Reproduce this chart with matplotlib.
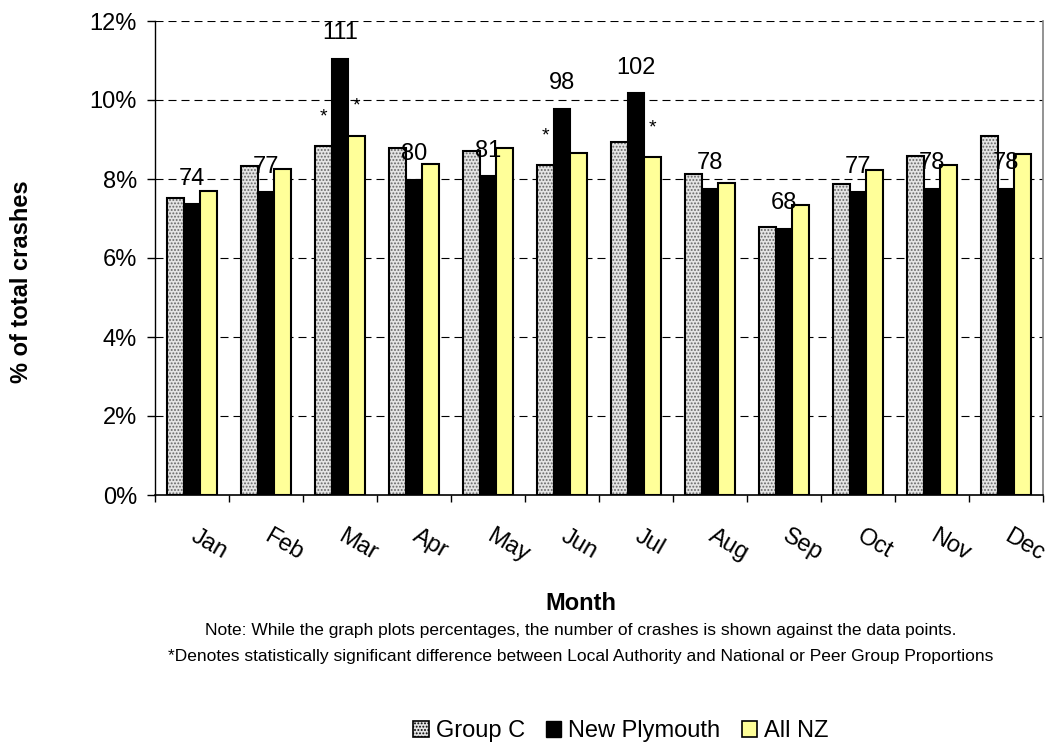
import matplotlib
matplotlib.use("Agg")
import matplotlib.pyplot as plt
from matplotlib.patches import Patch
from matplotlib.ticker import FuncFormatter, FixedLocator

plt.rcParams['font.family'] = ['Liberation Sans', 'DejaVu Sans']
plt.rcParams['hatch.linewidth'] = 0.9

months = ["Jan", "Feb", "Mar", "Apr", "May", "Jun", "Jul", "Aug", "Sep", "Oct", "Nov", "Dec"]
group_c = [7.53, 8.34, 8.84, 8.78, 8.70, 8.36, 8.94, 8.13, 6.78, 7.87, 8.59, 9.09]
new_plymouth = [7.36, 7.66, 11.05, 7.97, 8.07, 9.77, 10.17, 7.75, 6.74, 7.66, 7.75, 7.75]
all_nz = [7.70, 8.26, 9.10, 8.39, 8.78, 8.65, 8.56, 7.89, 7.35, 8.23, 8.35, 8.63]
crash_counts = [74, 77, 111, 80, 81, 98, 102, 78, 68, 77, 78, 78]
# significance markers: (month index, series index) 0=Group C, 2=All NZ
signif = [(2, 0), (2, 2), (5, 0), (6, 2)]
series_names = ["Group C", "New Plymouth", "All NZ"]
yticks = [0, 2, 4, 6, 8, 10, 12]

fig = plt.figure(figsize=(10.59, 7.45), dpi=100)
ax = fig.add_axes([155/1059, 1-495/745, (1043-155)/1059, (495-21)/745])

w = 0.225
x = list(range(len(months)))
offsets = [-w, 0.0, w]
series = [group_c, new_plymouth, all_nz]

# Group C: dotted grey
xs0 = [i + offsets[0] for i in x]
ax.bar(xs0, group_c, width=w, color='#e4e4e4', edgecolor='#666666', linewidth=0, hatch='.....', zorder=3)
ax.bar(xs0, group_c, width=w, fill=False, edgecolor='black', linewidth=1.5, zorder=4)
# New Plymouth: black
ax.bar([i + offsets[1] for i in x], new_plymouth, width=w, color='black', edgecolor='black', linewidth=1.5, zorder=3)
# All NZ: pale yellow
ax.bar([i + offsets[2] for i in x], all_nz, width=w, color='#ffff99', edgecolor='black', linewidth=1.5, zorder=3)

# count labels
for i, (v, n) in enumerate(zip(new_plymouth, crash_counts)):
    ax.annotate(str(n), (i + offsets[1], v), xytext=(0, 18.5), textcoords='offset points',
                ha='center', va='center', fontsize=17, zorder=6)

# significance asterisks
for (i, s) in signif:
    ax.annotate('*', (i + offsets[s], series[s][i]), xytext=(0, 21), textcoords='offset points',
                ha='center', va='center', fontsize=14, zorder=6)

ax.set_xlim(-0.5, 11.5)
ax.set_ylim(0, 12)
ax.yaxis.set_major_locator(FixedLocator(yticks))
ax.yaxis.set_major_formatter(FuncFormatter(lambda v, p: f"{int(v)}%"))
ax.tick_params(axis='y', direction='out', length=6, width=1, pad=7, labelsize=17)
ax.set_xticks([i - 0.5 for i in range(len(months) + 1)])
ax.set_xticklabels([])
ax.tick_params(axis='x', direction='out', length=5, width=1)

for yv in yticks[1:]:
    ax.axhline(yv, color='black', linewidth=0.8, dashes=(7.2, 4.5), zorder=1)

ax.spines['top'].set_visible(False)
ax.spines['right'].set_color('#808080')
ax.spines['right'].set_linewidth(1.2)
ax.spines['left'].set_linewidth(1.0)
ax.spines['bottom'].set_linewidth(1.2)

# rotated month labels
for i, m in enumerate(months):
    ax.text(i + 0.08, -0.063, m, transform=ax.get_xaxis_transform(), rotation=-30,
            rotation_mode='anchor', ha='left', va='top', fontsize=17)

fig.text(22/1059, 1-282/745, "% of total crashes", rotation=90, ha='center', va='center',
         fontsize=17, fontweight='bold')
fig.text(581/1059, 1-603/745, "Month", ha='center', va='center', fontsize=17, fontweight='bold')
fig.text(581/1059, 1-631/745,
         "Note: While the graph plots percentages, the number of crashes is shown against the data points.",
         ha='center', va='center', fontsize=12.5)
fig.text(581/1059, 1-656/745,
         "*Denotes statistically significant difference between Local Authority and National or Peer Group Proportions",
         ha='center', va='center', fontsize=12.5)

handles = [
    Patch(facecolor='#e4e4e4', edgecolor='black', hatch='.....', linewidth=1.2),
    Patch(facecolor='black', edgecolor='black'),
    Patch(facecolor='#ffff99', edgecolor='black', linewidth=1.2),
]
fig.legend(handles, series_names, loc='center', bbox_to_anchor=(621/1059, 1-731/745), ncol=3,
           frameon=False, fontsize=17, handlelength=0.65, handleheight=0.65, handletextpad=0.3,
           columnspacing=0.9, borderaxespad=0, borderpad=0)

fig.savefig("out.png", dpi=100)
